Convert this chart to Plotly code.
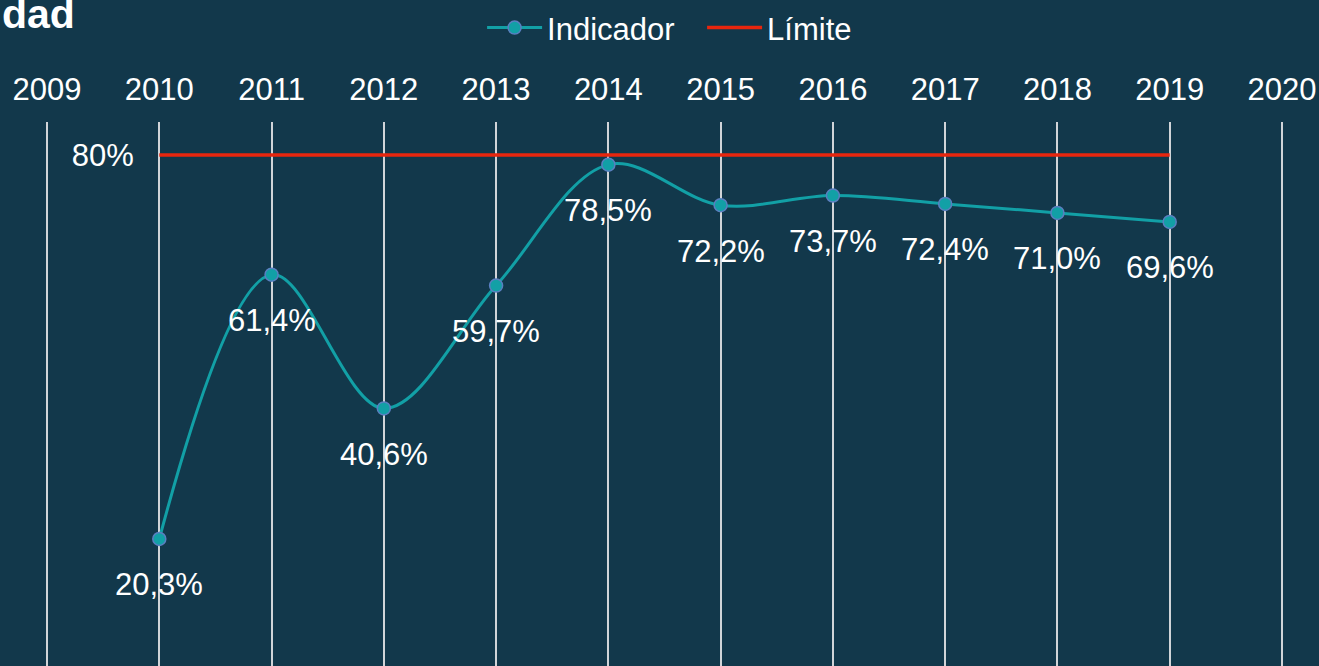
import plotly.graph_objects as go

years = [2010, 2011, 2012, 2013, 2014, 2015, 2016, 2017, 2018, 2019]
indicador = [20.3, 61.4, 40.6, 59.7, 78.5, 72.2, 73.7, 72.4, 71.0, 69.6]
limite = [80] * len(years)
tick_years = list(range(2009, 2021))
labels = [f"{v:.1f}%".replace(".", ",") for v in indicador]

BG = "#12384b"
FONT = "Liberation Sans, Arial, Helvetica, sans-serif"
TEAL = "#12a0a6"
RED = "#e8260e"
FS = 31

fig = go.Figure()
fig.add_trace(go.Scatter(
    x=years, y=indicador, name="Indicador", mode="lines+markers",
    line=dict(color=TEAL, width=3, shape="spline"),
    marker=dict(size=13, color=TEAL, line=dict(color="#5a7fc0", width=1.5)),
))
fig.add_trace(go.Scatter(
    x=years, y=limite, name="Límite", mode="lines",
    line=dict(color=RED, width=3.5),
))

for x, y, t in zip(years, indicador, labels):
    fig.add_annotation(x=x, y=y, text=t, showarrow=False, yshift=-46,
                       font=dict(size=FS, color="white", family=FONT))

fig.add_annotation(text="<b>dad</b>", xref="paper", yref="paper", x=0, y=1.152,
                   xanchor="left", yanchor="bottom", showarrow=False,
                   font=dict(size=41, color="white", family=FONT))

fig.update_layout(
    width=1319, height=666,
    paper_bgcolor=BG, plot_bgcolor=BG,
    margin=dict(l=0, r=0, t=122, b=0),
    font=dict(family=FONT, color="white", size=FS),
    showlegend=True,
    legend=dict(orientation="h", x=0.3655, xanchor="left", yref="container",
                y=0.958, yanchor="middle", font=dict(size=FS, color="white"),
                itemwidth=55, entrywidth=150, entrywidthmode="pixels",
                bgcolor="rgba(0,0,0,0)"),
    xaxis=dict(side="top", range=[2008.581, 2020.33], tickvals=tick_years,
               ticktext=[str(y) for y in tick_years], showgrid=True,
               gridcolor="#d0d4d8", gridwidth=1.5, zeroline=False,
               showline=False, ticks="", ticklabelstandoff=15,
               tickfont=dict(size=FS, color="white")),
    yaxis=dict(range=[0.55, 85.13], tickvals=[80], ticktext=["80%"],
               showgrid=False, zeroline=False, showline=False, ticks="",
               anchor="free", position=0.1015, side="left",
               tickfont=dict(size=FS, color="white")),
)

fig.write_html("out.html", config={"displayModeBar": False},
               post_script="document.body.style.margin='0';")
